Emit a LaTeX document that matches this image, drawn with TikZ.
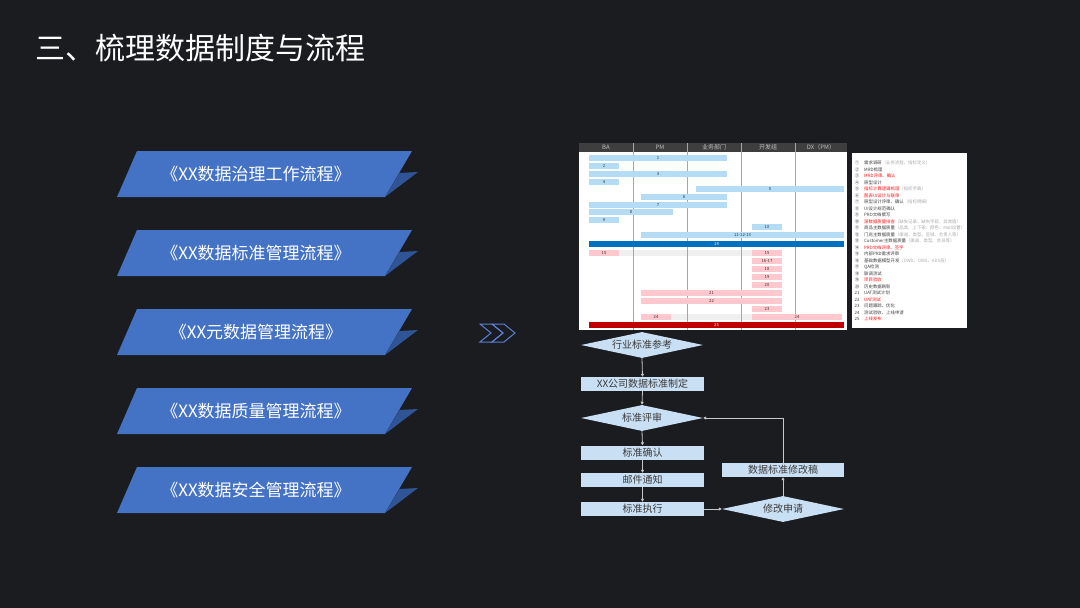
\documentclass[tikz,border=0pt]{standalone}
\usepackage{fontspec}
\setmainfont{Noto Sans CJK SC}
\usetikzlibrary{shapes.geometric,arrows.meta}
\definecolor{bg}{HTML}{1A1C1F}
\definecolor{rib}{HTML}{4472C4}
\definecolor{ribdark}{HTML}{2F5597}
\definecolor{chevc}{HTML}{5B7FD6}
\definecolor{ghead}{HTML}{3E3E3E}
\definecolor{gline}{HTML}{A6A6A6}
\definecolor{gblue}{HTML}{B4DCF5}
\definecolor{gdblue}{HTML}{0070C0}
\definecolor{gpink}{HTML}{FFC7CE}
\definecolor{ggray}{HTML}{F0F0F0}
\definecolor{gred}{HTML}{C00000}
\definecolor{lgred}{HTML}{FF1A1A}
\definecolor{lggray}{HTML}{AAAAAA}
\definecolor{lgtext}{HTML}{404040}
\definecolor{flow}{HTML}{C9DFF3}
\definecolor{ftext}{HTML}{3A3A3A}
\definecolor{farrow}{HTML}{C8C8C8}
\newcommand\gb[6]{\node[gbar,fill=#5,minimum width={(#3-#2)*1pt}] (#1) at ({(#2+#3)/2},#4) {#6};}
\newcommand\lgitem[4]{\node[lgnum] (ln#1) at (857,{163+6.5*(#1-1)}) {#2};\node[lgtxt,#3] (lt#1) at (864,{163+6.5*(#1-1)}) {#4};}
\newcommand\ann[1]{\textcolor{lggray}{#1}}
\begin{document}
\begin{tikzpicture}[x=1pt,y=-1pt,
  ribtext/.style={text=white,font=\fontsize{17}{18}\selectfont,inner sep=0},
  chev/.style={draw=chevc,line width=1pt,line join=miter},
  ghtext/.style={text=white!75!black,font=\fontsize{6}{6}\selectfont,inner sep=0},
  gbar/.style={inner sep=0,minimum height=6pt,text=black!80,font=\fontsize{4.2}{4.2}\selectfont},
  lgnum/.style={inner sep=0,text=lgtext,font=\fontsize{4.4}{4.4}\selectfont},
  lgtxt/.style={anchor=west,inner sep=0,text=lgtext,font=\fontsize{4.4}{4.4}\selectfont},
  lgr/.style={text=lgred},
  fbox/.style={fill=flow,text=ftext,minimum width=123pt,minimum height=14pt,inner sep=0,font=\fontsize{10}{10}\selectfont},
  fdia/.style={diamond,aspect=4.7,fill=flow,text=ftext,minimum width=122pt,minimum height=26pt,inner sep=0,font=\fontsize{10}{10}\selectfont},
  farr/.style={draw=farrow,line width=0.8pt,-{Triangle[length=3pt,width=3pt]}}
]
\fill[bg] (0,0) rectangle (1080,608);
\useasboundingbox (0,0) rectangle (1080,608);

% title
\node[anchor=west,text=white,font=\fontsize{30}{31}\selectfont,inner sep=0] (title) at (35,48) {三、梳理数据制度与流程};

% ribbons
\foreach \t/\txt/\n in {151/《XX数据治理工作流程》/r1,230/《XX数据标准管理流程》/r2,309/《XX元数据管理流程》/r3,388/《XX数据质量管理流程》/r4,467/《XX数据安全管理流程》/r5}{
  \fill[rib] (137,\t) -- (412,\t) -- (385,\t+46) -- (117,\t+46) -- cycle;
  \fill[ribdark] (399.5,\t+22) -- (418,\t+21) -- (385,\t+46) -- cycle;
  \node[ribtext] (\n) at (256,\t+23) {\txt};
}

% chevrons
\draw[chev] (480,324) -- (492,324) -- (503,333) -- (492,342) -- (480,342) -- (491,333) -- cycle;
\draw[chev] (492,324) -- (504,324) -- (515,333) -- (504,342) -- (492,342) -- (503,333) -- cycle;

% gantt
\fill[ghead] (579,143) rectangle (847,152);
\fill[white] (579,152) rectangle (847,330);
\fill[ggray] (619,250) rectangle (752,256);
\fill[ggray] (671,314) rectangle (752,320);
\foreach \x in {633,687,741,795}{\draw[gline,line width=0.7pt] (\x,143) -- (\x,330);}
\node[ghtext] (hba) at (606,147.5) {BA};
\node[ghtext] (hpm) at (660,147.5) {PM};
\node[ghtext] (hyw) at (714,147.5) {业务部门};
\node[ghtext] (hkf) at (768,147.5) {开发组};
\node[ghtext] (hdx) at (821,147.5) {DX（PM）};
\gb{g1}{589}{727}{158}{gblue}{1}
\gb{g2}{589}{619}{166}{gblue}{2}
\gb{g3}{589}{727}{174}{gblue}{3}
\gb{g4}{589}{619}{182}{gblue}{4}
\gb{g5}{696}{844}{189}{gblue}{5}
\gb{g6}{641}{727}{197}{gblue}{6}
\gb{g7}{589}{727}{205}{gblue}{7}
\gb{g8}{589}{673}{212}{gblue}{8}
\gb{g9}{589}{619}{220}{gblue}{9}
\gb{g10}{752}{782}{227}{gblue}{10}
\gb{g11}{641}{844}{235}{gblue}{11-12-13}
\node[gbar,fill=gdblue,text=white,minimum width=255pt] (g14) at (716.5,244) {14};
\gb{g15a}{589}{619}{253}{gpink}{15}
\gb{g15b}{752}{782}{253}{gpink}{15}
\gb{g16}{752}{782}{261}{gpink}{16-17}
\gb{g18}{752}{782}{269}{gpink}{18}
\gb{g19}{752}{782}{277}{gpink}{19}
\gb{g20}{752}{782}{285}{gpink}{20}
\gb{g21}{641}{782}{293}{gpink}{21}
\gb{g22}{641}{782}{301}{gpink}{22}
\gb{g23}{752}{782}{309}{gpink}{23}
\gb{g24a}{641}{671}{317}{gpink}{24}
\gb{g24b}{752}{842}{317}{gpink}{24}
\node[gbar,fill=gred,text=white!85!red,minimum width=255pt] (g25) at (716.5,325) {25};

% legend
\fill[white] (852,153) rectangle (967,328);
\lgitem{1}{①}{}{需求调研\ann{（业务流程、指标定义）}}
\lgitem{2}{②}{}{MRD梳理}
\lgitem{3}{③}{lgr}{MRD评审、确认}
\lgitem{4}{④}{}{原型设计}
\lgitem{5}{⑤}{lgr}{指标计算逻辑梳理\ann{（指标字典）}}
\lgitem{6}{⑥}{lgr}{图表UI设计与联审}
\lgitem{7}{⑦}{}{原型设计评审、确认\ann{（指标明细）}}
\lgitem{8}{⑧}{}{UI设计规范确认}
\lgitem{9}{⑨}{}{PRD文档撰写}
\lgitem{10}{⑩}{lgr}{源数据质量排查\ann{（缺失记录、缺失字段、异常值）}}
\lgitem{11}{⑪}{}{商品主数据质量\ann{（品类、上下架、颜色、Mall设置）}}
\lgitem{12}{⑫}{}{门店主数据质量\ann{（渠道、类型、区域、负责人等）}}
\lgitem{13}{⑬}{}{Customer主数据质量\ann{（渠道、类型、会员等）}}
\lgitem{14}{⑭}{lgr}{PRD文档评审、签字}
\lgitem{15}{⑮}{}{内部PRD需求评审}
\lgitem{16}{⑯}{}{基础数据模型开发\ann{（DWD、DWS、ADS层）}}
\lgitem{17}{⑰}{}{QA检测}
\lgitem{18}{⑱}{}{联调测试}
\lgitem{19}{⑲}{lgr}{项目验收}
\lgitem{20}{⑳}{}{历史数据刷新}
\lgitem{21}{21}{}{UAT测试计划}
\lgitem{22}{22}{lgr}{UAT测试}
\lgitem{23}{23}{}{问题跟踪、优化}
\lgitem{24}{24}{}{测试验收、上线申请}
\lgitem{25}{25}{lgr}{上线发布}

% flowchart
\node[fdia] (d1) at (642,345) {行业标准参考};
\node[fbox] (b1) at (642.5,384) {XX公司数据标准制定};
\node[fdia] (d2) at (642,418) {标准评审};
\node[fbox] (b2) at (642.5,452.5) {标准确认};
\node[fbox] (b3) at (642.5,480) {邮件通知};
\node[fbox] (b4) at (642.5,509) {标准执行};
\node[fdia] (d3) at (783,509) {修改申请};
\node[fbox,minimum width=122pt] (b5) at (783,470) {数据标准修改稿};
\draw[farr] (d1.south) -- (b1.north);
\draw[farr] (b1.south) -- (d2.north);
\draw[farr] (d2.south) -- (b2.north);
\draw[farr] (b2.south) -- (b3.north);
\draw[farr] (b3.south) -- (b4.north);
\draw[farr] (b4.east) -- (d3.west);
\draw[farr] (d3.north) -- (b5.south);
\draw[farr] (b5.north) |- (d2.east);
\end{tikzpicture}
\end{document}
